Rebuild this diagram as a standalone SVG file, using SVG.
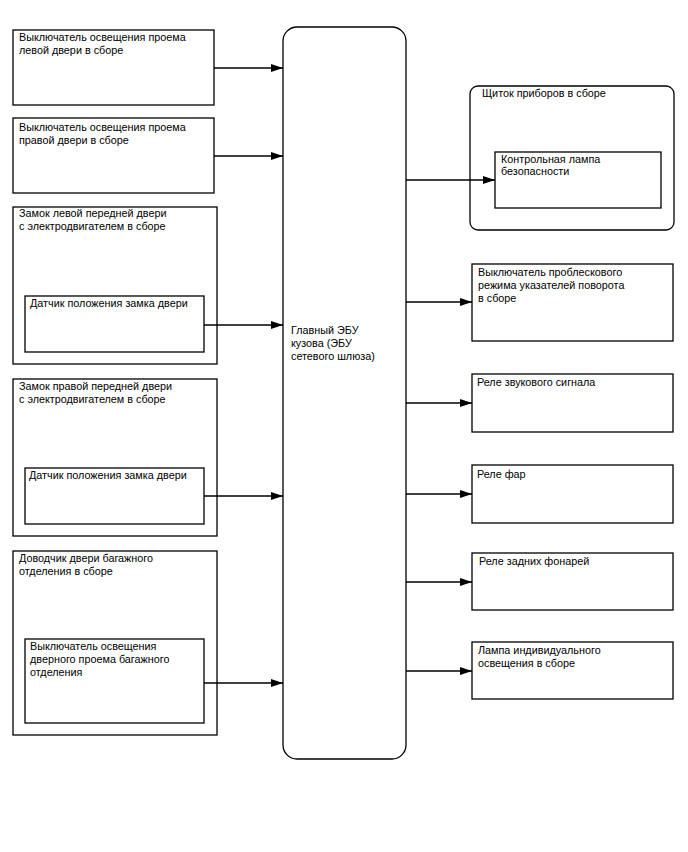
<svg xmlns="http://www.w3.org/2000/svg" width="688" height="852" viewBox="0 0 688 852">
<style>
.b{fill:#fff;stroke:#000;stroke-width:1.3}
.t{font-family:"Liberation Sans",Arial,sans-serif;font-size:10.8px;fill:#000}
.c{fill:none;stroke:#000;stroke-width:1.3}
</style>
<defs>
<marker id="a" viewBox="0 0 12 8" refX="12" refY="4" markerWidth="12" markerHeight="8" markerUnits="userSpaceOnUse" orient="auto">
<path d="M0,0 L12,4 L0,8 Z" fill="#000"/>
</marker>
</defs>
<rect width="688" height="852" fill="#fff"/>
<g id="n1"><rect class="b" x="13" y="30" width="201" height="75"/>
<text class="t" x="19" y="41">Выключатель освещения проема</text><text class="t" x="19" y="54">левой двери в сборе</text></g>
<g id="n2"><rect class="b" x="13" y="118" width="201" height="75"/>
<text class="t" x="19" y="131">Выключатель освещения проема</text><text class="t" x="19" y="144">правой двери в сборе</text></g>
<g id="n3"><rect class="b" x="13" y="207" width="204" height="157"/>
<text class="t" x="19" y="217">Замок левой передней двери</text><text class="t" x="19" y="230">с электродвигателем в сборе</text>
<rect class="b" x="25" y="296" width="179" height="56"/>
<text class="t" x="30" y="307">Датчик положения замка двери</text></g>
<g id="n4"><rect class="b" x="13" y="379" width="204" height="157"/>
<text class="t" x="19" y="390">Замок правой передней двери</text><text class="t" x="19" y="403">с электродвигателем в сборе</text>
<rect class="b" x="25" y="468" width="179" height="56"/>
<text class="t" x="29" y="479">Датчик положения замка двери</text></g>
<g id="n5"><rect class="b" x="13" y="551" width="204" height="184"/>
<text class="t" x="19" y="562">Доводчик двери багажного</text><text class="t" x="19" y="575">отделения в сборе</text>
<rect class="b" x="25" y="639" width="179" height="84"/>
<text class="t" x="30" y="650">Выключатель освещения</text><text class="t" x="30" y="663">дверного проема багажного</text><text class="t" x="30" y="676">отделения</text></g>
<g id="ecu"><rect class="b" x="283" y="27" width="123" height="732" rx="14"/>
<text class="t" x="291" y="334">Главный ЭБУ</text><text class="t" x="291" y="347">кузова (ЭБУ</text><text class="t" x="291" y="360">сетевого шлюза)</text></g>
<g id="r1"><rect class="b" x="470" y="86" width="204" height="144" rx="8"/>
<text class="t" x="482" y="97">Щиток приборов в сборе</text>
<rect class="b" x="495" y="152" width="166" height="56"/>
<text class="t" x="501" y="163">Контрольная лампа</text><text class="t" x="501" y="175">безопасности</text></g>
<g id="r2"><rect class="b" x="472" y="264" width="201" height="77"/>
<text class="t" x="478" y="276">Выключатель проблескового</text><text class="t" x="478" y="289">режима указателей поворота</text><text class="t" x="478" y="302">в сборе</text></g>
<g id="r3"><rect class="b" x="472" y="374" width="201" height="58"/>
<text class="t" x="477" y="386">Реле звукового сигнала</text></g>
<g id="r4"><rect class="b" x="472" y="465" width="201" height="58"/>
<text class="t" x="477" y="478">Реле фар</text></g>
<g id="r5"><rect class="b" x="472" y="553" width="201" height="57"/>
<text class="t" x="479" y="565">Реле задних фонарей</text></g>
<g id="r6"><rect class="b" x="472" y="642" width="201" height="57"/>
<text class="t" x="478" y="654">Лампа индивидуального</text><text class="t" x="478" y="667">освещения в сборе</text></g>
<g id="connectors" class="c">
<line x1="214" y1="68" x2="283" y2="68" marker-end="url(#a)"/>
<line x1="214" y1="156" x2="283" y2="156" marker-end="url(#a)"/>
<line x1="204" y1="325" x2="283" y2="325" marker-end="url(#a)"/>
<line x1="204" y1="496" x2="283" y2="496" marker-end="url(#a)"/>
<line x1="204" y1="683" x2="283" y2="683" marker-end="url(#a)"/>
<line x1="406" y1="180" x2="495" y2="180" marker-end="url(#a)"/>
<line x1="406" y1="302" x2="472" y2="302" marker-end="url(#a)"/>
<line x1="406" y1="403" x2="472" y2="403" marker-end="url(#a)"/>
<line x1="406" y1="494" x2="472" y2="494" marker-end="url(#a)"/>
<line x1="406" y1="582" x2="472" y2="582" marker-end="url(#a)"/>
<line x1="406" y1="671" x2="472" y2="671" marker-end="url(#a)"/>
</g>
</svg>
